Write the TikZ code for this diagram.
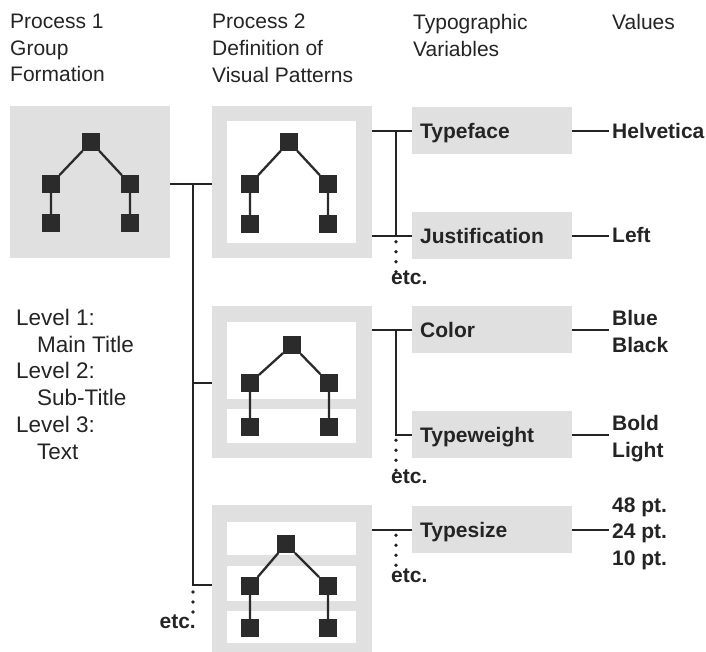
\documentclass[tikz,border=0pt]{standalone}
\usepackage{fontspec}
\setmainfont{Liberation Sans}
\definecolor{ink}{gray}{0.14}
\definecolor{sq}{gray}{0.17}
\definecolor{boxgray}{gray}{0.88}
\newcommand{\mktree}[7]{%
  \node[sqr] (#1t) at (#2,#3) {};
  \node[sqr] (#1l) at (#4,#6) {};
  \node[sqr] (#1r) at (#5,#6) {};
  \node[sqr] (#1lb) at (#4,#7) {};
  \node[sqr] (#1rb) at (#5,#7) {};
  \draw[tline] (#1t) -- (#1l) (#1t) -- (#1r) (#1l) -- (#1lb) (#1r) -- (#1rb);
}
\begin{document}
\begin{tikzpicture}[x=1pt,y=-1pt,
  txt/.style={font=\fontsize{21}{26.6}\selectfont, inner sep=0pt, align=left, text=ink},
  lvtxt/.style={font=\fontsize{22.5}{26.7}\selectfont, inner sep=0pt, align=left, text=ink},
  btxt/.style={font=\fontsize{21}{26.6}\selectfont\bfseries, inner sep=0pt, align=left, text=ink},
  panel/.style={fill=boxgray, inner sep=0pt, anchor=north west, minimum width=160pt},
  vbox/.style={fill=boxgray, anchor=north west, minimum height=47pt, text width=144pt,
    inner xsep=8pt, inner ysep=0pt, align=left, text height=15pt, text depth=0pt,
    font=\fontsize{21}{26.6}\selectfont\bfseries, text=ink},
  sqr/.style={fill=sq, minimum size=17.5pt, inner sep=0pt},
  tline/.style={draw=sq, line width=2.3pt},
  conn/.style={draw=ink, line width=1.7pt},
  dotline/.style={draw=ink, line width=3.7pt, line cap=round, dash pattern=on 0pt off 10pt},
]
\useasboundingbox (0,0) rectangle (706,652);

% headers
\node[txt, anchor=north west] (h1) at (10,14) {Process 1\\Group\\Formation};
\node[txt, anchor=north west] (h2) at (212,14) {Process 2\\Definition of\\Visual Patterns};
\node[txt, anchor=north west] (h3) at (413,14) {Typographic\\Variables};
\node[txt, anchor=north west] (h4) at (612,14) {Values};

% panels
\node[panel, minimum height=152pt] (p1) at (10,106) {};
\node[panel, minimum height=152pt] (p2a) at (212,106) {};
\node[panel, minimum height=152pt] (p2b) at (212,306) {};
\node[panel, minimum height=147pt] (p2c) at (212,505) {};

\fill[white] (227,121) rectangle (356,243);
\fill[white] (227,322) rectangle (356,399);
\fill[white] (227,409) rectangle (356,443);
\fill[white] (227,522) rectangle (356,555);
\fill[white] (227,566) rectangle (356,601);
\fill[white] (227,611) rectangle (356,643);

% trees
\mktree{a}{91}{142}{51}{130}{184}{223}
\mktree{b}{289}{142}{250}{328}{184}{224}
\mktree{c}{292}{345}{250}{329}{383}{427}
\mktree{d}{286}{544}{250}{328}{586}{628}

% level text
\node[lvtxt, anchor=north west] (lv) at (16,309)
  {Level 1:\\\hspace*{21pt}Main Title\\Level 2:\\\hspace*{21pt}Sub-Title\\Level 3:\\\hspace*{21pt}Text};

% variable boxes
\node[vbox] (tf) at (412,107) {Typeface};
\node[vbox] (js) at (412,212) {Justification};
\node[vbox] (co) at (412,306) {Color};
\node[vbox] (tw) at (412,411) {Typeweight};
\node[vbox] (ts) at (412,506) {Typesize};

% values
\node[btxt, anchor=base west, inner xsep=3.5pt] (hv) at (608.5,138.5) {Helvetica};
\node[btxt, anchor=base west, inner xsep=3.5pt] (lf) at (608.5,242.5) {Left};
\node[btxt, anchor=north west, inner xsep=3.5pt] (bb) at (608.5,310.5) {Blue\\Black};
\node[btxt, anchor=north west, inner xsep=3.5pt] (bl) at (608.5,415.5) {Bold\\Light};
\node[btxt, anchor=north west, inner xsep=3.5pt] (pt) at (608.5,497.5) {48 pt.\\24 pt.\\10 pt.};

% etc labels
\node[btxt, anchor=base west] (e1) at (391,284.5) {etc.};
\node[btxt, anchor=base west] (e2) at (391,483.5) {etc.};
\node[btxt, anchor=base west] (e3) at (391,582.5) {etc.};
\node[btxt, anchor=base east] (e4) at (196,628.5) {etc.};

% junction coordinates
\coordinate (vr) at (396,0);
\coordinate (jl1) at (193,184);
\coordinate (jl2) at (193,383);
\coordinate (jl3) at (193,585);

% left connectors
\draw[conn] (p1.east |- jl1) -- (p2a.west |- jl1);
\draw[conn] (jl1) -- (jl3) -- (p2c.west |- jl3);
\draw[conn] (jl2) -- (p2b.west |- jl2);
\draw[dotline, dash phase=3pt, shorten >=3pt] (jl3) -- (jl3 |- e4.center);

% right connectors
\draw[conn] (p2a.east |- tf.west) -- (tf.west);
\draw[conn] (p2a.east |- js.west) -- (js.west);
\draw[conn] (vr |- tf.west) -- (vr |- js.west);
\draw[dotline, dash phase=4pt, shorten >=3pt] (vr |- js.west) -- (vr |- e1.center);

\draw[conn] (p2b.east |- co.west) -- (co.west);
\draw[conn] (vr |- co.west) -- (vr |- tw.west) -- (tw.west);
\draw[dotline, dash phase=4.5pt, shorten >=3pt] (vr |- tw.west) -- (vr |- e2.center);

\draw[conn] (p2c.east |- ts.west) -- (ts.west);
\draw[dotline, dash phase=4.5pt, shorten >=3pt] (vr |- ts.west) -- (vr |- e3.center);

% value connectors
\draw[conn] (tf.east) -- (tf.east -| hv.west);
\draw[conn] (js.east) -- (js.east -| lf.west);
\draw[conn] (co.east) -- (co.east -| bb.west);
\draw[conn] (tw.east) -- (tw.east -| bl.west);
\draw[conn] (ts.east) -- (ts.east -| pt.west);
\end{tikzpicture}
\end{document}
